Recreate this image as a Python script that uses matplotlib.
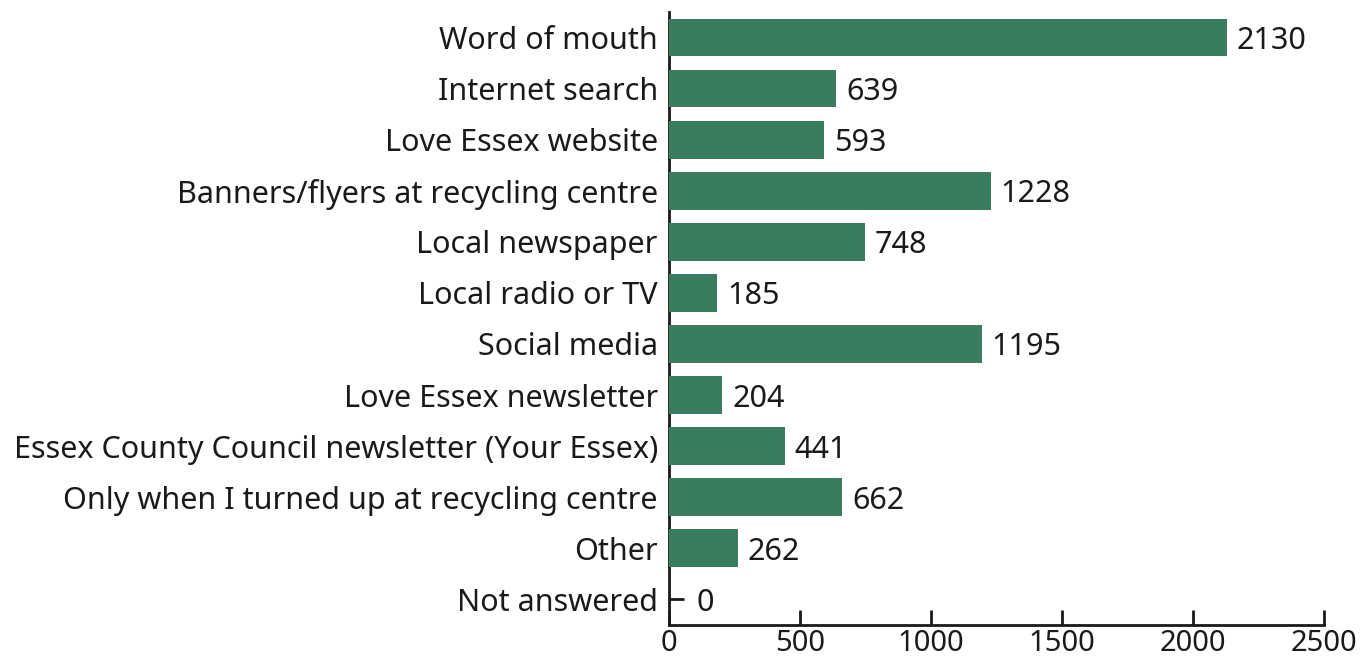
import matplotlib
matplotlib.use("Agg")
import matplotlib.pyplot as plt

# Respuestas: como se entero de la encuesta
categorias = [
    "Word of mouth",
    "Internet search",
    "Love Essex website",
    "Banners/flyers at recycling centre",
    "Local newspaper",
    "Local radio or TV",
    "Social media",
    "Love Essex newsletter",
    "Essex County Council newsletter (Your Essex)",
    "Only when I turned up at recycling centre",
    "Other",
    "Not answered",
]
valores = [2130, 639, 593, 1228, 748, 185, 1195, 204, 441, 662, 262, 0]
ticks_x = [0, 500, 1000, 1500, 2000, 2500]

plt.rcParams['font.family'] = ['Noto Sans', 'DejaVu Sans']

fig = plt.figure(figsize=(13.63, 6.6), dpi=100)
ax = fig.add_axes([0.4908, 0.053, 0.4806, 0.929])

pos = list(range(len(categorias)))
ax.barh(pos, valores, height=0.74, color='#3a7d5e', zorder=3)

for p, v in zip(pos, valores):
    # el cero queda pegado al tick, se separa un poco mas
    dx = 7 if v > 0 else 20
    ax.annotate(str(v), (v, p), xytext=(dx, 0),
                textcoords='offset points', va='center_baseline', ha='left',
                fontsize=22, color='#1a1a1a')

ax.set_yticks(pos)
ax.set_yticklabels(categorias, fontsize=22, color='#1a1a1a')
ax.set_xticks(ticks_x)
ax.set_xticklabels([str(t) for t in ticks_x], fontsize=21, color='#1a1a1a')
ax.set_xlim(0, 2500)
ax.set_ylim(11.5, -0.5)

ax.spines['top'].set_visible(False)
ax.spines['right'].set_visible(False)
for s in ('left', 'bottom'):
    ax.spines[s].set_linewidth(2)
    ax.spines[s].set_color('#1a1a1a')
ax.tick_params(axis='both', direction='in', length=11, width=2, color='#1a1a1a')
ax.tick_params(axis='x', pad=3)
ax.tick_params(axis='y', pad=8)

fig.savefig('out.png', dpi=100)
